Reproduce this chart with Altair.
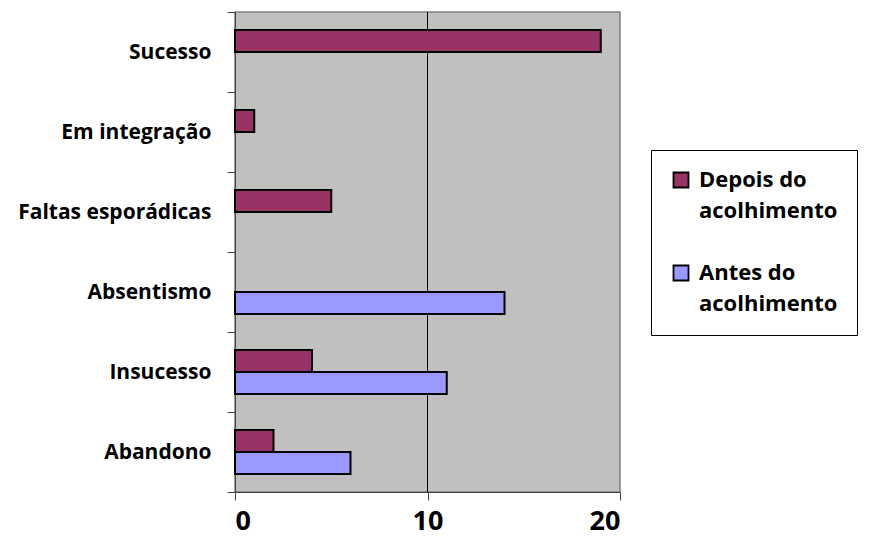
import altair as alt
import pandas as pd

categories = ["Sucesso", "Em integração", "Faltas esporádicas", "Absentismo", "Insucesso", "Abandono"]
depois = [19, 1, 5, 0, 4, 2]
antes = [0, 0, 0, 14, 11, 6]
series = ["Depois do acolhimento", "Antes do acolhimento"]
colors = ["#993366", "#9999FF"]
x_ticks = [0, 10, 20]

# legend rows: each series label is wrapped over two rows, with a blank row between
legend_rows = ["Depois do acolhimento", "wrap1", "gap", "Antes do acolhimento", "wrap2"]
legend_fill = [colors[0], "transparent", "transparent", colors[1], "transparent"]
legend_stroke = ["black", "transparent", "transparent", "black", "transparent"]

rows = []
for c, d, a in zip(categories, depois, antes):
    if d:
        rows.append({"cat": c, "serie": series[0], "v": d})
    if a:
        rows.append({"cat": c, "serie": series[1], "v": a})
df = pd.DataFrame(rows)

FONT = "Open Sans"

xscale = alt.Scale(domain=[0, 20])
xaxis = alt.Axis(values=x_ticks, title=None, grid=False, labelFont=FONT,
                 labelFontWeight="bold", labelFontSize=27, labelColor="black",
                 tickColor="#404040", tickSize=8, domainColor="#404040",
                 labelPadding=8)

legend = alt.Legend(title=None, orient="none", legendX=416, legendY=138,
                    fillColor="white", strokeColor="black", padding=19,
                    symbolType="square", symbolSize=225, symbolStrokeWidth=1.8,
                    labelFont=FONT, labelFontWeight="bold", labelFontSize=22,
                    labelColor="black", labelLimit=300, rowPadding=7, labelOffset=7,
                    labelExpr="datum.value == 'Depois do acolhimento' ? 'Depois do' : "
                              "datum.value == 'Antes do acolhimento' ? 'Antes do' : "
                              "datum.value == 'gap' ? '' : 'acolhimento'")

rule = alt.Chart(pd.DataFrame({"x": [10]})).mark_rule(color="black", strokeWidth=1).encode(
    x=alt.X("x:Q", scale=xscale, axis=xaxis)
)

bars = alt.Chart(df).mark_bar(strokeWidth=2).encode(
    x=alt.X("v:Q", scale=xscale, axis=xaxis),
    y=alt.Y("cat:N", sort=categories, scale=alt.Scale(paddingInner=0, paddingOuter=0),
            axis=alt.Axis(title=None, tickBand="extent", labelFont=FONT, labelFontWeight="bold",
                          labelFontSize=21, labelColor="black", tickColor="#404040", tickSize=8,
                          domainColor="#404040", labelPadding=16, labelLimit=300)),
    yOffset=alt.YOffset("serie:N", sort=series,
                        scale=alt.Scale(domain=series, paddingInner=0, paddingOuter=0.818)),
    color=alt.Color("serie:N", scale=alt.Scale(domain=legend_rows, range=legend_fill), legend=legend),
    stroke=alt.Stroke("serie:N", scale=alt.Scale(domain=legend_rows, range=legend_stroke), legend=legend),
)

chart = alt.layer(rule, bars).properties(
    width=385, height=480,
    autosize=alt.AutoSizeParams(type="none"),
    padding={"left": 227, "top": 4, "right": 243, "bottom": 49},
).configure_view(fill="#C0C0C0", stroke="#808080", strokeWidth=1.5)

chart.save("out.html", embed_options={"renderer": "svg", "actions": False})
